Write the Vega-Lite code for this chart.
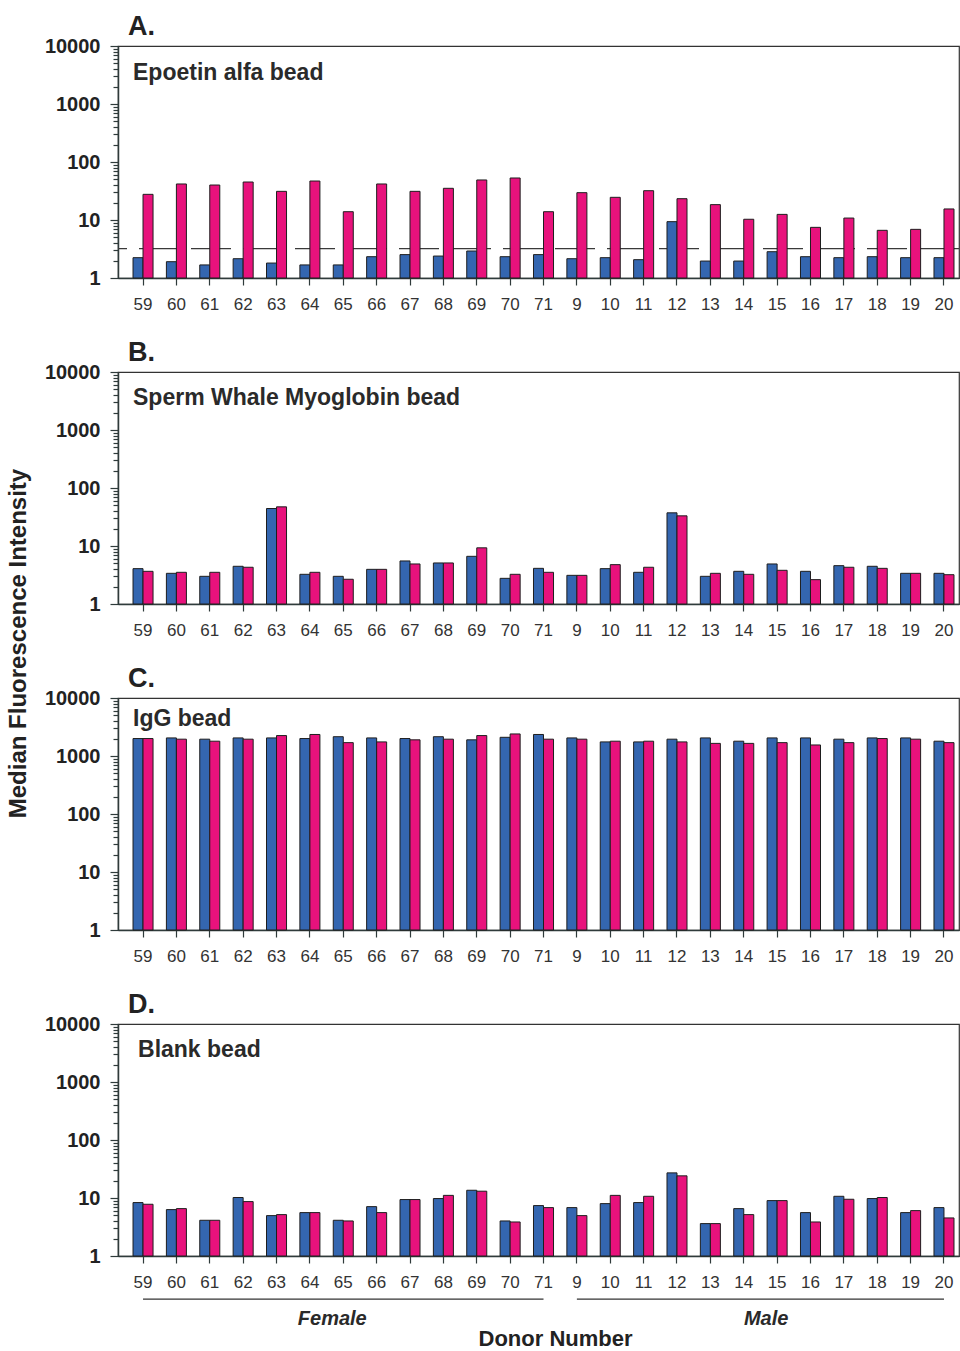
{
  "$schema": "https://vega.github.io/schema/vega-lite/v6.json",
  "padding": {"left": 5, "top": 12, "right": 0, "bottom": 0},
  "background": "white",
  "bounds": "flush",
  "spacing": 94,
  "config": {
    "font": "Liberation Sans",
    "view": {"stroke": "#333333", "strokeWidth": 1.2},
    "title": {"anchor": "start", "frame": "group", "fontSize": 27, "fontWeight": "bold", "color": "#222222", "dx": 10, "offset": -5},
    "axis": {"grid": false}
  },
  "datasets": {
    "cutoff": [{"cutpoint": 3.2}],
    "labels": [
      {"panel": "A", "bead": "Epoetin alfa bead"},
      {"panel": "B", "bead": "Sperm Whale Myoglobin bead"},
      {"panel": "C", "bead": "IgG bead"},
      {"panel": "D", "bead": "Blank bead"}
    ],
    "groups": [
      {"sex": "Female", "first": "59", "last": "71", "middle": "65"},
      {"sex": "Male", "first": "9", "last": "20", "middle": "15"}
    ],
    "bars": [
      {"panel": "A", "donor": "59", "sample": "Unspiked", "mfi": 2.24}, {"panel": "A", "donor": "59", "sample": "Spiked", "mfi": 27.7},
      {"panel": "A", "donor": "60", "sample": "Unspiked", "mfi": 1.91}, {"panel": "A", "donor": "60", "sample": "Spiked", "mfi": 41.8},
      {"panel": "A", "donor": "61", "sample": "Unspiked", "mfi": 1.68}, {"panel": "A", "donor": "61", "sample": "Spiked", "mfi": 40.1},
      {"panel": "A", "donor": "62", "sample": "Unspiked", "mfi": 2.15}, {"panel": "A", "donor": "62", "sample": "Spiked", "mfi": 45.2},
      {"panel": "A", "donor": "63", "sample": "Unspiked", "mfi": 1.81}, {"panel": "A", "donor": "63", "sample": "Spiked", "mfi": 31.2},
      {"panel": "A", "donor": "64", "sample": "Unspiked", "mfi": 1.68}, {"panel": "A", "donor": "64", "sample": "Spiked", "mfi": 47.0},
      {"panel": "A", "donor": "65", "sample": "Unspiked", "mfi": 1.68}, {"panel": "A", "donor": "65", "sample": "Spiked", "mfi": 13.9},
      {"panel": "A", "donor": "66", "sample": "Unspiked", "mfi": 2.33}, {"panel": "A", "donor": "66", "sample": "Spiked", "mfi": 41.8},
      {"panel": "A", "donor": "67", "sample": "Unspiked", "mfi": 2.53}, {"panel": "A", "donor": "67", "sample": "Spiked", "mfi": 31.2},
      {"panel": "A", "donor": "68", "sample": "Unspiked", "mfi": 2.39}, {"panel": "A", "donor": "68", "sample": "Spiked", "mfi": 35.2},
      {"panel": "A", "donor": "69", "sample": "Unspiked", "mfi": 2.92}, {"panel": "A", "donor": "69", "sample": "Spiked", "mfi": 49.0},
      {"panel": "A", "donor": "70", "sample": "Unspiked", "mfi": 2.33}, {"panel": "A", "donor": "70", "sample": "Spiked", "mfi": 53.0},
      {"panel": "A", "donor": "71", "sample": "Unspiked", "mfi": 2.53}, {"panel": "A", "donor": "71", "sample": "Spiked", "mfi": 13.9},
      {"panel": "A", "donor": "9", "sample": "Unspiked", "mfi": 2.15}, {"panel": "A", "donor": "9", "sample": "Spiked", "mfi": 29.6},
      {"panel": "A", "donor": "10", "sample": "Unspiked", "mfi": 2.24}, {"panel": "A", "donor": "10", "sample": "Spiked", "mfi": 24.6},
      {"panel": "A", "donor": "11", "sample": "Unspiked", "mfi": 2.07}, {"panel": "A", "donor": "11", "sample": "Spiked", "mfi": 32.0},
      {"panel": "A", "donor": "12", "sample": "Unspiked", "mfi": 9.36}, {"panel": "A", "donor": "12", "sample": "Spiked", "mfi": 23.3},
      {"panel": "A", "donor": "13", "sample": "Unspiked", "mfi": 1.96}, {"panel": "A", "donor": "13", "sample": "Spiked", "mfi": 18.4},
      {"panel": "A", "donor": "14", "sample": "Unspiked", "mfi": 1.96}, {"panel": "A", "donor": "14", "sample": "Spiked", "mfi": 10.3},
      {"panel": "A", "donor": "15", "sample": "Unspiked", "mfi": 2.84}, {"panel": "A", "donor": "15", "sample": "Spiked", "mfi": 12.5},
      {"panel": "A", "donor": "16", "sample": "Unspiked", "mfi": 2.33}, {"panel": "A", "donor": "16", "sample": "Spiked", "mfi": 7.47},
      {"panel": "A", "donor": "17", "sample": "Unspiked", "mfi": 2.24}, {"panel": "A", "donor": "17", "sample": "Spiked", "mfi": 10.8},
      {"panel": "A", "donor": "18", "sample": "Unspiked", "mfi": 2.33}, {"panel": "A", "donor": "18", "sample": "Spiked", "mfi": 6.64},
      {"panel": "A", "donor": "19", "sample": "Unspiked", "mfi": 2.24}, {"panel": "A", "donor": "19", "sample": "Spiked", "mfi": 6.9},
      {"panel": "A", "donor": "20", "sample": "Unspiked", "mfi": 2.24}, {"panel": "A", "donor": "20", "sample": "Spiked", "mfi": 15.5},

      {"panel": "B", "donor": "59", "sample": "Unspiked", "mfi": 4.07}, {"panel": "B", "donor": "59", "sample": "Spiked", "mfi": 3.66},
      {"panel": "B", "donor": "60", "sample": "Unspiked", "mfi": 3.38}, {"panel": "B", "donor": "60", "sample": "Spiked", "mfi": 3.52},
      {"panel": "B", "donor": "61", "sample": "Unspiked", "mfi": 3.0}, {"panel": "B", "donor": "61", "sample": "Spiked", "mfi": 3.52},
      {"panel": "B", "donor": "62", "sample": "Unspiked", "mfi": 4.47}, {"panel": "B", "donor": "62", "sample": "Spiked", "mfi": 4.3},
      {"panel": "B", "donor": "63", "sample": "Unspiked", "mfi": 44.3}, {"panel": "B", "donor": "63", "sample": "Spiked", "mfi": 47.3},
      {"panel": "B", "donor": "64", "sample": "Unspiked", "mfi": 3.25}, {"panel": "B", "donor": "64", "sample": "Spiked", "mfi": 3.52},
      {"panel": "B", "donor": "65", "sample": "Unspiked", "mfi": 3.0}, {"panel": "B", "donor": "65", "sample": "Spiked", "mfi": 2.67},
      {"panel": "B", "donor": "66", "sample": "Unspiked", "mfi": 3.96}, {"panel": "B", "donor": "66", "sample": "Spiked", "mfi": 3.96},
      {"panel": "B", "donor": "67", "sample": "Unspiked", "mfi": 5.52}, {"panel": "B", "donor": "67", "sample": "Spiked", "mfi": 4.9},
      {"panel": "B", "donor": "68", "sample": "Unspiked", "mfi": 5.1}, {"panel": "B", "donor": "68", "sample": "Spiked", "mfi": 5.1},
      {"panel": "B", "donor": "69", "sample": "Unspiked", "mfi": 6.64}, {"panel": "B", "donor": "69", "sample": "Spiked", "mfi": 9.3},
      {"panel": "B", "donor": "70", "sample": "Unspiked", "mfi": 2.77}, {"panel": "B", "donor": "70", "sample": "Spiked", "mfi": 3.25},
      {"panel": "B", "donor": "71", "sample": "Unspiked", "mfi": 4.12}, {"panel": "B", "donor": "71", "sample": "Spiked", "mfi": 3.52},
      {"panel": "B", "donor": "9", "sample": "Unspiked", "mfi": 3.12}, {"panel": "B", "donor": "9", "sample": "Spiked", "mfi": 3.12},
      {"panel": "B", "donor": "10", "sample": "Unspiked", "mfi": 4.07}, {"panel": "B", "donor": "10", "sample": "Spiked", "mfi": 4.77},
      {"panel": "B", "donor": "11", "sample": "Unspiked", "mfi": 3.52}, {"panel": "B", "donor": "11", "sample": "Spiked", "mfi": 4.3},
      {"panel": "B", "donor": "12", "sample": "Unspiked", "mfi": 37.3}, {"panel": "B", "donor": "12", "sample": "Spiked", "mfi": 33.1},
      {"panel": "B", "donor": "13", "sample": "Unspiked", "mfi": 3.0}, {"panel": "B", "donor": "13", "sample": "Spiked", "mfi": 3.38},
      {"panel": "B", "donor": "14", "sample": "Unspiked", "mfi": 3.66}, {"panel": "B", "donor": "14", "sample": "Spiked", "mfi": 3.25},
      {"panel": "B", "donor": "15", "sample": "Unspiked", "mfi": 4.9}, {"panel": "B", "donor": "15", "sample": "Spiked", "mfi": 3.81},
      {"panel": "B", "donor": "16", "sample": "Unspiked", "mfi": 3.66}, {"panel": "B", "donor": "16", "sample": "Spiked", "mfi": 2.63},
      {"panel": "B", "donor": "17", "sample": "Unspiked", "mfi": 4.58}, {"panel": "B", "donor": "17", "sample": "Spiked", "mfi": 4.3},
      {"panel": "B", "donor": "18", "sample": "Unspiked", "mfi": 4.47}, {"panel": "B", "donor": "18", "sample": "Spiked", "mfi": 4.12},
      {"panel": "B", "donor": "19", "sample": "Unspiked", "mfi": 3.38}, {"panel": "B", "donor": "19", "sample": "Spiked", "mfi": 3.38},
      {"panel": "B", "donor": "20", "sample": "Unspiked", "mfi": 3.38}, {"panel": "B", "donor": "20", "sample": "Spiked", "mfi": 3.2},

      {"panel": "C", "donor": "59", "sample": "Unspiked", "mfi": 2000}, {"panel": "C", "donor": "59", "sample": "Spiked", "mfi": 2000},
      {"panel": "C", "donor": "60", "sample": "Unspiked", "mfi": 2050}, {"panel": "C", "donor": "60", "sample": "Spiked", "mfi": 1950},
      {"panel": "C", "donor": "61", "sample": "Unspiked", "mfi": 1950}, {"panel": "C", "donor": "61", "sample": "Spiked", "mfi": 1800},
      {"panel": "C", "donor": "62", "sample": "Unspiked", "mfi": 2050}, {"panel": "C", "donor": "62", "sample": "Spiked", "mfi": 1950},
      {"panel": "C", "donor": "63", "sample": "Unspiked", "mfi": 2050}, {"panel": "C", "donor": "63", "sample": "Spiked", "mfi": 2250},
      {"panel": "C", "donor": "64", "sample": "Unspiked", "mfi": 2000}, {"panel": "C", "donor": "64", "sample": "Spiked", "mfi": 2350},
      {"panel": "C", "donor": "65", "sample": "Unspiked", "mfi": 2150}, {"panel": "C", "donor": "65", "sample": "Spiked", "mfi": 1700},
      {"panel": "C", "donor": "66", "sample": "Unspiked", "mfi": 2050}, {"panel": "C", "donor": "66", "sample": "Spiked", "mfi": 1750},
      {"panel": "C", "donor": "67", "sample": "Unspiked", "mfi": 2000}, {"panel": "C", "donor": "67", "sample": "Spiked", "mfi": 1900},
      {"panel": "C", "donor": "68", "sample": "Unspiked", "mfi": 2150}, {"panel": "C", "donor": "68", "sample": "Spiked", "mfi": 1950},
      {"panel": "C", "donor": "69", "sample": "Unspiked", "mfi": 1900}, {"panel": "C", "donor": "69", "sample": "Spiked", "mfi": 2250},
      {"panel": "C", "donor": "70", "sample": "Unspiked", "mfi": 2100}, {"panel": "C", "donor": "70", "sample": "Spiked", "mfi": 2400},
      {"panel": "C", "donor": "71", "sample": "Unspiked", "mfi": 2350}, {"panel": "C", "donor": "71", "sample": "Spiked", "mfi": 1950},
      {"panel": "C", "donor": "9", "sample": "Unspiked", "mfi": 2050}, {"panel": "C", "donor": "9", "sample": "Spiked", "mfi": 1950},
      {"panel": "C", "donor": "10", "sample": "Unspiked", "mfi": 1750}, {"panel": "C", "donor": "10", "sample": "Spiked", "mfi": 1800},
      {"panel": "C", "donor": "11", "sample": "Unspiked", "mfi": 1750}, {"panel": "C", "donor": "11", "sample": "Spiked", "mfi": 1800},
      {"panel": "C", "donor": "12", "sample": "Unspiked", "mfi": 1950}, {"panel": "C", "donor": "12", "sample": "Spiked", "mfi": 1750},
      {"panel": "C", "donor": "13", "sample": "Unspiked", "mfi": 2050}, {"panel": "C", "donor": "13", "sample": "Spiked", "mfi": 1650},
      {"panel": "C", "donor": "14", "sample": "Unspiked", "mfi": 1800}, {"panel": "C", "donor": "14", "sample": "Spiked", "mfi": 1650},
      {"panel": "C", "donor": "15", "sample": "Unspiked", "mfi": 2050}, {"panel": "C", "donor": "15", "sample": "Spiked", "mfi": 1700},
      {"panel": "C", "donor": "16", "sample": "Unspiked", "mfi": 2050}, {"panel": "C", "donor": "16", "sample": "Spiked", "mfi": 1550},
      {"panel": "C", "donor": "17", "sample": "Unspiked", "mfi": 1950}, {"panel": "C", "donor": "17", "sample": "Spiked", "mfi": 1700},
      {"panel": "C", "donor": "18", "sample": "Unspiked", "mfi": 2050}, {"panel": "C", "donor": "18", "sample": "Spiked", "mfi": 2000},
      {"panel": "C", "donor": "19", "sample": "Unspiked", "mfi": 2050}, {"panel": "C", "donor": "19", "sample": "Spiked", "mfi": 1950},
      {"panel": "C", "donor": "20", "sample": "Unspiked", "mfi": 1800}, {"panel": "C", "donor": "20", "sample": "Spiked", "mfi": 1700},

      {"panel": "D", "donor": "59", "sample": "Unspiked", "mfi": 8.34}, {"panel": "D", "donor": "59", "sample": "Spiked", "mfi": 7.8},
      {"panel": "D", "donor": "60", "sample": "Unspiked", "mfi": 6.31}, {"panel": "D", "donor": "60", "sample": "Spiked", "mfi": 6.56},
      {"panel": "D", "donor": "61", "sample": "Unspiked", "mfi": 4.13}, {"panel": "D", "donor": "61", "sample": "Spiked", "mfi": 4.13},
      {"panel": "D", "donor": "62", "sample": "Unspiked", "mfi": 10.2}, {"panel": "D", "donor": "62", "sample": "Spiked", "mfi": 8.67},
      {"panel": "D", "donor": "63", "sample": "Unspiked", "mfi": 4.97}, {"panel": "D", "donor": "63", "sample": "Spiked", "mfi": 5.17},
      {"panel": "D", "donor": "64", "sample": "Unspiked", "mfi": 5.6}, {"panel": "D", "donor": "64", "sample": "Spiked", "mfi": 5.6},
      {"panel": "D", "donor": "65", "sample": "Unspiked", "mfi": 4.13}, {"panel": "D", "donor": "65", "sample": "Spiked", "mfi": 4.02},
      {"panel": "D", "donor": "66", "sample": "Unspiked", "mfi": 7.1}, {"panel": "D", "donor": "66", "sample": "Spiked", "mfi": 5.6},
      {"panel": "D", "donor": "67", "sample": "Unspiked", "mfi": 9.4}, {"panel": "D", "donor": "67", "sample": "Spiked", "mfi": 9.4},
      {"panel": "D", "donor": "68", "sample": "Unspiked", "mfi": 9.78}, {"panel": "D", "donor": "68", "sample": "Spiked", "mfi": 11.1},
      {"panel": "D", "donor": "69", "sample": "Unspiked", "mfi": 13.6}, {"panel": "D", "donor": "69", "sample": "Spiked", "mfi": 13.1},
      {"panel": "D", "donor": "70", "sample": "Unspiked", "mfi": 4.02}, {"panel": "D", "donor": "70", "sample": "Spiked", "mfi": 3.86},
      {"panel": "D", "donor": "71", "sample": "Unspiked", "mfi": 7.4}, {"panel": "D", "donor": "71", "sample": "Spiked", "mfi": 6.83},
      {"panel": "D", "donor": "9", "sample": "Unspiked", "mfi": 6.83}, {"panel": "D", "donor": "9", "sample": "Spiked", "mfi": 4.97},
      {"panel": "D", "donor": "10", "sample": "Unspiked", "mfi": 8.0}, {"panel": "D", "donor": "10", "sample": "Spiked", "mfi": 11.1},
      {"panel": "D", "donor": "11", "sample": "Unspiked", "mfi": 8.34}, {"panel": "D", "donor": "11", "sample": "Spiked", "mfi": 10.7},
      {"panel": "D", "donor": "12", "sample": "Unspiked", "mfi": 27.1}, {"panel": "D", "donor": "12", "sample": "Spiked", "mfi": 24.1},
      {"panel": "D", "donor": "13", "sample": "Unspiked", "mfi": 3.62}, {"panel": "D", "donor": "13", "sample": "Spiked", "mfi": 3.62},
      {"panel": "D", "donor": "14", "sample": "Unspiked", "mfi": 6.56}, {"panel": "D", "donor": "14", "sample": "Spiked", "mfi": 5.17},
      {"panel": "D", "donor": "15", "sample": "Unspiked", "mfi": 9.02}, {"panel": "D", "donor": "15", "sample": "Spiked", "mfi": 9.02},
      {"panel": "D", "donor": "16", "sample": "Unspiked", "mfi": 5.6}, {"panel": "D", "donor": "16", "sample": "Spiked", "mfi": 3.86},
      {"panel": "D", "donor": "17", "sample": "Unspiked", "mfi": 10.7}, {"panel": "D", "donor": "17", "sample": "Spiked", "mfi": 9.51},
      {"panel": "D", "donor": "18", "sample": "Unspiked", "mfi": 9.78}, {"panel": "D", "donor": "18", "sample": "Spiked", "mfi": 10.2},
      {"panel": "D", "donor": "19", "sample": "Unspiked", "mfi": 5.6}, {"panel": "D", "donor": "19", "sample": "Spiked", "mfi": 6.06},
      {"panel": "D", "donor": "20", "sample": "Unspiked", "mfi": 6.83}, {"panel": "D", "donor": "20", "sample": "Spiked", "mfi": 4.53}
    ]
  },
  "vconcat": [
    {
      "width": 841, "height": 232,
      "title": "A.",
      "layer": [
        {
          "data": {"name": "cutoff"},
          "mark": {"type": "rule", "color": "#3a3a3a", "strokeWidth": 1.3, "strokeDash": [40, 12]},
          "encoding": {"y": {"field": "cutpoint", "type": "quantitative"}}
        },
        {
          "data": {"name": "bars"},
          "transform": [{"filter": "datum.panel === 'A'"}],
          "mark": {"type": "bar", "stroke": "#1e1e1e", "strokeWidth": 1},
          "encoding": {
            "x": {"field": "donor", "type": "ordinal",
              "scale": {"domain": ["59","60","61","62","63","64","65","66","67","68","69","70","71","9","10","11","12","13","14","15","16","17","18","19","20"], "paddingInner": 0.4, "paddingOuter": 0.3, "align": 0.75},
              "axis": {"title": null, "labelAngle": 0, "labelFontSize": 17, "labelColor": "#333333", "labelPadding": 11, "tickSize": 7, "tickColor": "#2f3b3b", "tickWidth": 1.2, "domainColor": "#2f3b3b", "domainWidth": 1.5}},
            "xOffset": {"field": "sample", "type": "nominal", "scale": {"domain": ["Unspiked", "Spiked"]}},
            "y": {"field": "mfi", "type": "quantitative", "scale": {"type": "log", "domain": [1, 10000]},
              "axis": {"title": null, "values": [1,2,3,4,5,6,7,8,9,10,20,30,40,50,60,70,80,90,100,200,300,400,500,600,700,800,900,1000,2000,3000,4000,5000,6000,7000,8000,9000,10000], "format": "d",
                "labelExpr": "(datum.value==1||datum.value==10||datum.value==100||datum.value==1000||datum.value==10000) ? datum.label : ''",
                "tickSize": {"condition": {"test": "datum.value==1||datum.value==10||datum.value==100||datum.value==1000||datum.value==10000", "value": 8}, "value": 5},
                "labelFontSize": 20, "labelFontWeight": "bold", "labelColor": "#222222", "labelPadding": 10, "labelOverlap": false, "labelBound": false, "labelFlush": false,
                "tickColor": "#2f3b3b", "tickWidth": 1.2, "domainColor": "#2f3b3b", "domainWidth": 1.5}},
            "y2": {"datum": 1},
            "color": {"field": "sample", "type": "nominal", "scale": {"domain": ["Unspiked", "Spiked"], "range": ["#3466B0", "#E8127C"]}, "legend": null}
          }
        },
        {
          "data": {"name": "labels"},
          "transform": [{"filter": "datum.panel === 'A'"}],
          "mark": {"type": "text", "align": "left", "baseline": "middle", "fontSize": 23, "fontWeight": "bold", "color": "#2a2a2a"},
          "encoding": {"text": {"field": "bead"}, "x": {"datum": "59", "type": "ordinal", "bandPosition": 0}, "y": {"datum": 3400, "type": "quantitative"}}
        }
      ]
    },
    {
      "width": 841, "height": 232,
      "title": "B.",
      "layer": [
        {
          "data": {"name": "bars"},
          "transform": [{"filter": "datum.panel === 'B'"}],
          "mark": {"type": "bar", "stroke": "#1e1e1e", "strokeWidth": 1},
          "encoding": {
            "x": {"field": "donor", "type": "ordinal",
              "scale": {"domain": ["59","60","61","62","63","64","65","66","67","68","69","70","71","9","10","11","12","13","14","15","16","17","18","19","20"], "paddingInner": 0.4, "paddingOuter": 0.3, "align": 0.75},
              "axis": {"title": null, "labelAngle": 0, "labelFontSize": 17, "labelColor": "#333333", "labelPadding": 11, "tickSize": 7, "tickColor": "#2f3b3b", "tickWidth": 1.2, "domainColor": "#2f3b3b", "domainWidth": 1.5}},
            "xOffset": {"field": "sample", "type": "nominal", "scale": {"domain": ["Unspiked", "Spiked"]}},
            "y": {"field": "mfi", "type": "quantitative", "scale": {"type": "log", "domain": [1, 10000]},
              "axis": {"title": "Median Fluorescence Intensity", "titleFontSize": 24, "titleFontWeight": "bold", "titleColor": "#222222", "titleX": -93, "titleY": 271, "titleAngle": 270, "titleAlign": "center", "titleBaseline": "alphabetic",
                "values": [1,2,3,4,5,6,7,8,9,10,20,30,40,50,60,70,80,90,100,200,300,400,500,600,700,800,900,1000,2000,3000,4000,5000,6000,7000,8000,9000,10000], "format": "d",
                "labelExpr": "(datum.value==1||datum.value==10||datum.value==100||datum.value==1000||datum.value==10000) ? datum.label : ''",
                "tickSize": {"condition": {"test": "datum.value==1||datum.value==10||datum.value==100||datum.value==1000||datum.value==10000", "value": 8}, "value": 5},
                "labelFontSize": 20, "labelFontWeight": "bold", "labelColor": "#222222", "labelPadding": 10, "labelOverlap": false, "labelBound": false, "labelFlush": false,
                "tickColor": "#2f3b3b", "tickWidth": 1.2, "domainColor": "#2f3b3b", "domainWidth": 1.5}},
            "y2": {"datum": 1},
            "color": {"field": "sample", "type": "nominal", "scale": {"domain": ["Unspiked", "Spiked"], "range": ["#3466B0", "#E8127C"]}, "legend": null}
          }
        },
        {
          "data": {"name": "labels"},
          "transform": [{"filter": "datum.panel === 'B'"}],
          "mark": {"type": "text", "align": "left", "baseline": "middle", "fontSize": 23, "fontWeight": "bold", "color": "#2a2a2a"},
          "encoding": {"text": {"field": "bead"}, "x": {"datum": "59", "type": "ordinal", "bandPosition": 0}, "y": {"datum": 3500, "type": "quantitative"}}
        }
      ]
    },
    {
      "width": 841, "height": 232,
      "title": "C.",
      "layer": [
        {
          "data": {"name": "bars"},
          "transform": [{"filter": "datum.panel === 'C'"}],
          "mark": {"type": "bar", "stroke": "#1e1e1e", "strokeWidth": 1},
          "encoding": {
            "x": {"field": "donor", "type": "ordinal",
              "scale": {"domain": ["59","60","61","62","63","64","65","66","67","68","69","70","71","9","10","11","12","13","14","15","16","17","18","19","20"], "paddingInner": 0.4, "paddingOuter": 0.3, "align": 0.75},
              "axis": {"title": null, "labelAngle": 0, "labelFontSize": 17, "labelColor": "#333333", "labelPadding": 11, "tickSize": 7, "tickColor": "#2f3b3b", "tickWidth": 1.2, "domainColor": "#2f3b3b", "domainWidth": 1.5}},
            "xOffset": {"field": "sample", "type": "nominal", "scale": {"domain": ["Unspiked", "Spiked"]}},
            "y": {"field": "mfi", "type": "quantitative", "scale": {"type": "log", "domain": [1, 10000]},
              "axis": {"title": null, "values": [1,2,3,4,5,6,7,8,9,10,20,30,40,50,60,70,80,90,100,200,300,400,500,600,700,800,900,1000,2000,3000,4000,5000,6000,7000,8000,9000,10000], "format": "d",
                "labelExpr": "(datum.value==1||datum.value==10||datum.value==100||datum.value==1000||datum.value==10000) ? datum.label : ''",
                "tickSize": {"condition": {"test": "datum.value==1||datum.value==10||datum.value==100||datum.value==1000||datum.value==10000", "value": 8}, "value": 5},
                "labelFontSize": 20, "labelFontWeight": "bold", "labelColor": "#222222", "labelPadding": 10, "labelOverlap": false, "labelBound": false, "labelFlush": false,
                "tickColor": "#2f3b3b", "tickWidth": 1.2, "domainColor": "#2f3b3b", "domainWidth": 1.5}},
            "y2": {"datum": 1},
            "color": {"field": "sample", "type": "nominal", "scale": {"domain": ["Unspiked", "Spiked"], "range": ["#3466B0", "#E8127C"]}, "legend": null}
          }
        },
        {
          "data": {"name": "labels"},
          "transform": [{"filter": "datum.panel === 'C'"}],
          "mark": {"type": "text", "align": "left", "baseline": "middle", "fontSize": 23, "fontWeight": "bold", "color": "#2a2a2a"},
          "encoding": {"text": {"field": "bead"}, "x": {"datum": "59", "type": "ordinal", "bandPosition": 0}, "y": {"datum": 4400, "type": "quantitative"}}
        }
      ]
    },
    {
      "width": 841, "height": 232,
      "title": "D.",
      "layer": [
        {
          "data": {"name": "bars"},
          "transform": [{"filter": "datum.panel === 'D'"}],
          "mark": {"type": "bar", "stroke": "#1e1e1e", "strokeWidth": 1},
          "encoding": {
            "x": {"field": "donor", "type": "ordinal",
              "scale": {"domain": ["59","60","61","62","63","64","65","66","67","68","69","70","71","9","10","11","12","13","14","15","16","17","18","19","20"], "paddingInner": 0.4, "paddingOuter": 0.3, "align": 0.75},
              "axis": {"title": "Donor Number", "titleFontSize": 22, "titleFontWeight": "bold", "titleColor": "#222222", "titleX": 437, "titleY": 89, "titleBaseline": "alphabetic",
                "labelAngle": 0, "labelFontSize": 17, "labelColor": "#333333", "labelPadding": 11, "tickSize": 7, "tickColor": "#2f3b3b", "tickWidth": 1.2, "domainColor": "#2f3b3b", "domainWidth": 1.5}},
            "xOffset": {"field": "sample", "type": "nominal", "scale": {"domain": ["Unspiked", "Spiked"]}},
            "y": {"field": "mfi", "type": "quantitative", "scale": {"type": "log", "domain": [1, 10000]},
              "axis": {"title": null, "values": [1,2,3,4,5,6,7,8,9,10,20,30,40,50,60,70,80,90,100,200,300,400,500,600,700,800,900,1000,2000,3000,4000,5000,6000,7000,8000,9000,10000], "format": "d",
                "labelExpr": "(datum.value==1||datum.value==10||datum.value==100||datum.value==1000||datum.value==10000) ? datum.label : ''",
                "tickSize": {"condition": {"test": "datum.value==1||datum.value==10||datum.value==100||datum.value==1000||datum.value==10000", "value": 8}, "value": 5},
                "labelFontSize": 20, "labelFontWeight": "bold", "labelColor": "#222222", "labelPadding": 10, "labelOverlap": false, "labelBound": false, "labelFlush": false,
                "tickColor": "#2f3b3b", "tickWidth": 1.2, "domainColor": "#2f3b3b", "domainWidth": 1.5}},
            "y2": {"datum": 1},
            "color": {"field": "sample", "type": "nominal", "scale": {"domain": ["Unspiked", "Spiked"], "range": ["#3466B0", "#E8127C"]}, "legend": null}
          }
        },
        {
          "data": {"name": "labels"},
          "transform": [{"filter": "datum.panel === 'D'"}],
          "mark": {"type": "text", "align": "left", "baseline": "middle", "fontSize": 23, "fontWeight": "bold", "color": "#2a2a2a", "dx": 5},
          "encoding": {"text": {"field": "bead"}, "x": {"datum": "59", "type": "ordinal", "bandPosition": 0}, "y": {"datum": 3500, "type": "quantitative"}}
        },
        {
          "data": {"name": "groups"},
          "mark": {"type": "rule", "color": "#333333", "strokeWidth": 1.3, "clip": false},
          "encoding": {"x": {"field": "first", "type": "ordinal"}, "x2": {"field": "last"}, "y": {"datum": 0.18, "type": "quantitative"}}
        },
        {
          "data": {"name": "groups"},
          "mark": {"type": "text", "align": "center", "baseline": "middle", "fontSize": 20, "fontWeight": "bold", "fontStyle": "italic", "color": "#2a2a2a", "dx": -11, "clip": false},
          "encoding": {"text": {"field": "sex"}, "x": {"field": "middle", "type": "ordinal"}, "y": {"datum": 0.082, "type": "quantitative"}}
        }
      ]
    }
  ]
}
